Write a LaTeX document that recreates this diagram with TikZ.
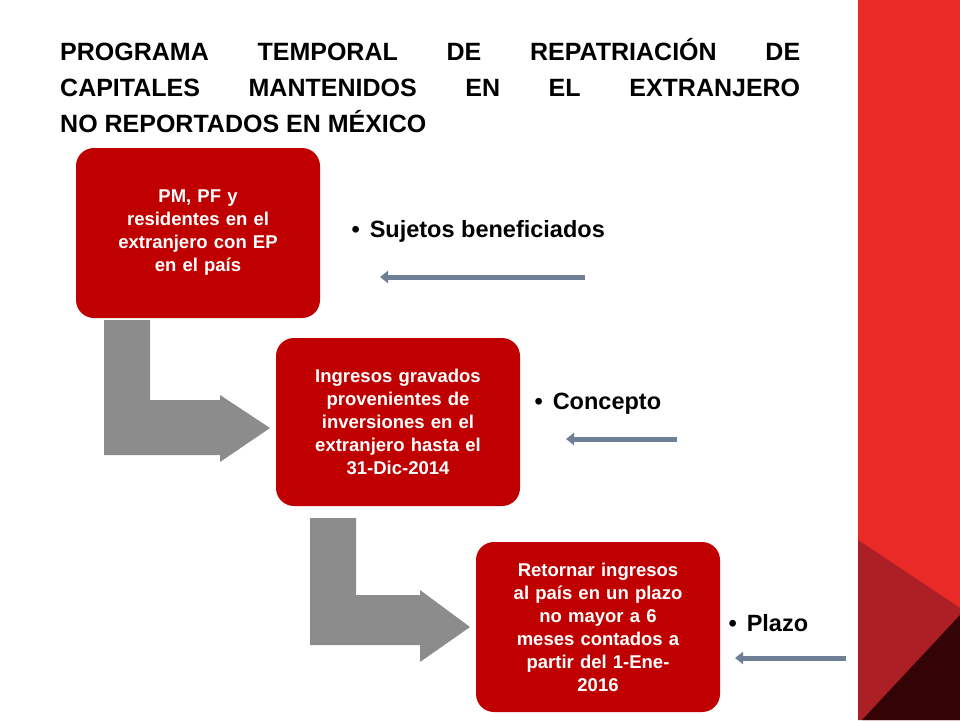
\documentclass[tikz,border=0pt]{standalone}
\usepackage{fontspec}
\setmainfont{Liberation Sans}
\usetikzlibrary{arrows.meta}
\definecolor{boxred}{HTML}{C00000}
\definecolor{panelred}{HTML}{E92A27}
\definecolor{midred}{HTML}{AC1F24}
\definecolor{darkred}{HTML}{330306}
\definecolor{bluegray}{HTML}{6F7F95}
\tikzset{
  redbox/.style={fill=boxred, rounded corners=18pt, minimum width=244pt, text width=218pt, align=center, text=white, font=\fontsize{18.5}{23}\selectfont\bfseries, inner sep=0pt},
  label/.style={anchor=west, font=\fontsize{23.5}{27}\selectfont\bfseries},
  thinarrow/.style={draw=bluegray, line width=5pt, -{Triangle[length=8pt,width=12pt]}},
  bent/.style={fill=gray!90}
}
\begin{document}
\begin{tikzpicture}[x=1pt,y=-1pt]
\useasboundingbox (0,0) rectangle (960,720);
\fill[white] (0,0) rectangle (960,720);
\fill[panelred] (858,0) rectangle (960,720);
\fill[midred] (858,540) -- (960,608) -- (960,720) -- (858,720) -- cycle;
\fill[darkred] (960,615) -- (862,720) -- (960,720) -- cycle;
\node[anchor=north west, align=left, inner sep=0pt, font=\fontsize{25}{36}\selectfont\bfseries] (title) at (60,38)
 {\makebox[740pt][s]{PROGRAMA\hfill TEMPORAL\hfill DE\hfill REPATRIACIÓN\hfill DE}\\
  \makebox[740pt][s]{CAPITALES\hfill MANTENIDOS\hfill EN\hfill EL\hfill EXTRANJERO}\\
  NO REPORTADOS EN MÉXICO};
% bent arrows
\fill[bent] (104,320) -- (150,320) -- (150,400) -- (220,400) -- (220,395) -- (270,428) -- (220,462) -- (220,455) -- (104,455) -- cycle;
\fill[bent] (310,518) -- (356,518) -- (356,595) -- (420,595) -- (420,590) -- (470,627) -- (420,662) -- (420,645) -- (310,645) -- cycle;
\node[redbox, minimum height=170pt] (b1) at (198,233) {PM, PF y\\ residentes en el\\ extranjero con EP\\ en el país};
\node[redbox, minimum height=168pt] (b2) at (398,422) {Ingresos gravados\\ provenientes de\\ inversiones en el\\ extranjero hasta el\\ 31-Dic-2014};
\node[redbox, minimum height=170pt] (b3) at (598,627) {Retornar ingresos\\ al país en un plazo\\ no mayor a 6\\ meses contados a\\ partir del 1-Ene-\\2016};
\node[label] (l1) at (348,231) {•\hspace{10pt}Sujetos beneficiados};
\node[label] (l2) at (531,404) {•\hspace{10pt}Concepto};
\node[label] (l3) at (725,623) {•\hspace{10pt}Plazo};
\coordinate (a1s) at (585,277); \coordinate (a1e) at (380,277);
\coordinate (a2s) at (677,439); \coordinate (a2e) at (566,439);
\coordinate (a3s) at (846,658); \coordinate (a3e) at (735,658);
\draw[thinarrow] (a1s) -- (a1e);
\draw[thinarrow] (a2s) -- (a2e);
\draw[thinarrow] (a3s) -- (a3e);
\end{tikzpicture}
\end{document}
